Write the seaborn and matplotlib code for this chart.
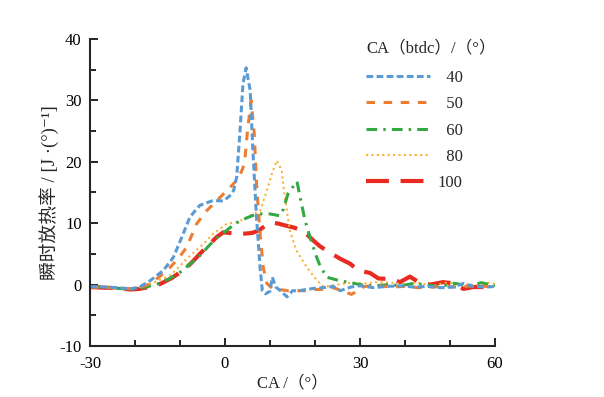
import numpy as np
import pandas as pd
import seaborn as sns
import matplotlib
matplotlib.use("Agg")
import matplotlib.pyplot as plt
from matplotlib.ticker import MultipleLocator

# crank angle (deg) / heat release rate
ca_40 = [-30, -27, -24, -21, -19, -16.7, -13.7, -11.5, -9.6, -7.8, -5.6, -2.6, -0.4, 1, 1.9, 2.6, 3.3, 4.0, 4.7,
         5.6, 6.2, 7.0, 7.8, 8.3, 9, 10, 10.5, 11.3, 12.3, 13.8, 15, 16.5, 18, 20, 22, 24, 25.6, 28, 30, 33,
         36, 39, 42, 45, 48, 51, 53, 55, 58, 60]
hr_40 = [-0.3, -0.4, -0.5, -0.7, -0.4, 0.6, 2.3, 4.4, 7.7, 11, 12.9, 13.7, 13.6, 14.4, 15.3, 17.5, 24.6, 32.7, 35.3,
         31.6, 21.8, 11, 2.8, -1, -1.5, -1.1, 1.2, -0.4, -1, -2, -1, -1, -0.8, -0.6, -0.5, -0.3, -1, -0.4, -0.2, -0.5,
         -0.3, -0.2, -0.4, -0.3, -0.5, -0.4, 0.2, -0.3, -0.4, -0.3]

ca_50 = [-30, -27, -24, -21, -19, -16.7, -14.5, -12.2, -10.3, -8.5, -6.3, -4.1, -1.1, 1.1, 2, 3, 4, 4.5, 5.0, 5.8, 6.5, 7.0,
         7.8, 8.5, 9.3, 10.5, 12, 14, 16, 18, 20, 22, 24, 26, 28.1, 29.5, 31, 34, 37, 40, 43, 46, 49, 52, 55, 58, 60]
hr_50 = [-0.4, -0.5, -0.6, -0.7, -0.5, 0.1, 1.3, 2.8, 4.3, 6.1, 9.9, 12, 14.2, 15.8, 16.5, 17.3, 19, 21, 25, 30, 24.6, 16.4,
         8.3, 2.8, 0.2, -0.6, -0.8, -1, -1, -1, -0.8, -0.8, -0.5, -1, -1.6, -1, -0.3, -0.2, -0.4, -0.3, -0.5, -0.4, -0.3, -0.4,
         -0.2, -0.3, -0.4]

ca_60 = [-30, -27, -24, -21, -19, -17, -15, -12.5, -10, -8, -5.6, -2.2, 0, 2.2, 4, 7, 10, 12.2, 13, 14, 15, 16,
         16.7, 17.8, 18.9, 20.4, 21.1, 22.6, 25.6, 27.3, 30, 33, 36.7, 39, 42, 45, 48, 51, 54, 57, 60]
hr_60 = [-0.3, -0.4, -0.6, -0.8, -0.6, -0.3, 0.1, 0.9, 2, 3.2, 4.7, 7.4, 8.6, 9.9, 10.6, 11.5, 11.5, 11.2, 12.3, 14.8,
         15.8, 16.8, 14.2, 10.4, 7.7, 4.4, 3.1, 1.2, 0.6, 0.4, 0, -0.2, 0, -0.2, 0.2, -0.1, -0.3, 0.2, -0.2, 0.3, -0.2]

ca_80 = [-30, -27, -24, -21, -19, -17, -15, -12.2, -10.3, -8.5, -6.5, -4.8, -2.6, 0.4, 2.9, 5.5, 7.8, 9.3, 10.4, 11.5,
         12.6, 13.3, 14.4, 15.9, 18.2, 20.4, 22, 25, 28, 31, 34, 37, 40, 43, 46, 49, 52, 55, 58, 60]
hr_80 = [-0.3, -0.4, -0.5, -0.6, -0.4, 0, 0.6, 1.5, 2.8, 4.2, 5.5, 6.6, 8.3, 9.9, 10.2, 11.2, 12, 15.3, 18, 20.2,
         18.6, 14.2, 8.8, 5.5, 2.8, 0.7, -0.4, 0, 0.3, 0.2, 0.4, 0.3, 0, 0.3, -0.2, 0.3, 0.2, -0.2, 0.3, 0.1]

ca_100 = [-30, -27, -24, -21, -19, -17, -14.4, -12, -9.3, -7.5, -5.6, -3.8, -1.9, -0.4, 2.6, 4.5, 6, 7.5, 9, 10.5, 12,
          13.5, 15.2, 17.3, 19.6, 21, 22.6, 25.6, 27.8, 29.6, 32.2, 34.1, 36.7, 38.9, 41.1, 43, 45.6, 48.5, 50.7,
          53, 55.2, 58.1, 60]
hr_100 = [-0.4, -0.5, -0.6, -0.8, -0.7, -0.4, 0.1, 1, 2.3, 3.5, 5, 6.3, 7.7, 8.5, 8.3, 8.3, 8.4, 8.8, 9.6, 10.1,
          9.9, 9.6, 9.3, 8.8, 7.2, 6.3, 5.5, 4.2, 3.4, 2.3, 1.9, 1.0, 0.9, 0.4, 1.3, 0.4, 0, 0.4, 0.2,
          -0.7, -0.4, -0.4, -0.4]

labels = ["  40", "  50", "  60", "  80", "100"]

sns.set_style("ticks")
plt.rcParams["font.family"] = ["Liberation Serif", "Noto Sans CJK SC", "DejaVu Serif"]
plt.rcParams["axes.linewidth"] = 1.5
plt.rcParams["axes.unicode_minus"] = False

fig = plt.figure(figsize=(6.04, 3.97), dpi=100)
ax = fig.add_axes([0.149, 0.1285, 0.6705, 0.7735])

series = [
    (ca_40, hr_40, "#5b9bd5", (0, (2.2, 1.1)), 2.2),
    (ca_50, hr_50, "#ed7d31", (0, (2.8, 2.8)), 2.2),
    (ca_60, hr_60, "#33a744", (0, (3.5, 2.0, 0.8, 2.0)), 2.2),
    (ca_80, hr_80, "#f9b233", (0, (1, 1.6)), 1.5),
    (ca_100, hr_100, "#e82a20", (0, (5.5, 2.8)), 3.0),
]
order = [4, 3, 2, 1, 0]
handles = [None] * 5
for i in order:
    x, y, c, ls, lw = series[i]
    df = pd.DataFrame({"ca": x, "hr": y})
    sns.lineplot(data=df, x="ca", y="hr", ax=ax, color=c, linestyle=ls, lw=lw,
                 label=labels[i], sort=False)
    handles[i] = ax.lines[-1]

ax.set_xlim(-30, 60)
ax.set_ylim(-10, 40)
ax.xaxis.set_major_locator(MultipleLocator(30))
ax.xaxis.set_minor_locator(MultipleLocator(10))
ax.yaxis.set_major_locator(MultipleLocator(10))
ax.yaxis.set_minor_locator(MultipleLocator(5))
ax.tick_params(which="both", direction="in", width=1.2, labelsize=12, colors="black")
ax.tick_params(which="major", length=6)
ax.tick_params(which="minor", length=4)
ax.tick_params(axis="y", pad=6)
ax.tick_params(axis="x", pad=7)
for s in ["top", "right"]:
    ax.spines[s].set_visible(False)

ax.set_xlabel("CA /（°）", fontsize=12, labelpad=3)
ax.set_ylabel("瞬时放热率 / [J ·(°)⁻¹]", fontsize=13.5, labelpad=0)

leg = ax.legend(handles=handles, labels=labels, title="CA（btdc）/（°）",
                loc="upper left", bbox_to_anchor=(0.645, 1.045), frameon=False,
                fontsize=12, title_fontsize=12, handlelength=3.8,
                handletextpad=0.5, labelspacing=0.62, alignment="left")
leg._legend_box.sep = 10

fig.savefig("out.png", dpi=100)
